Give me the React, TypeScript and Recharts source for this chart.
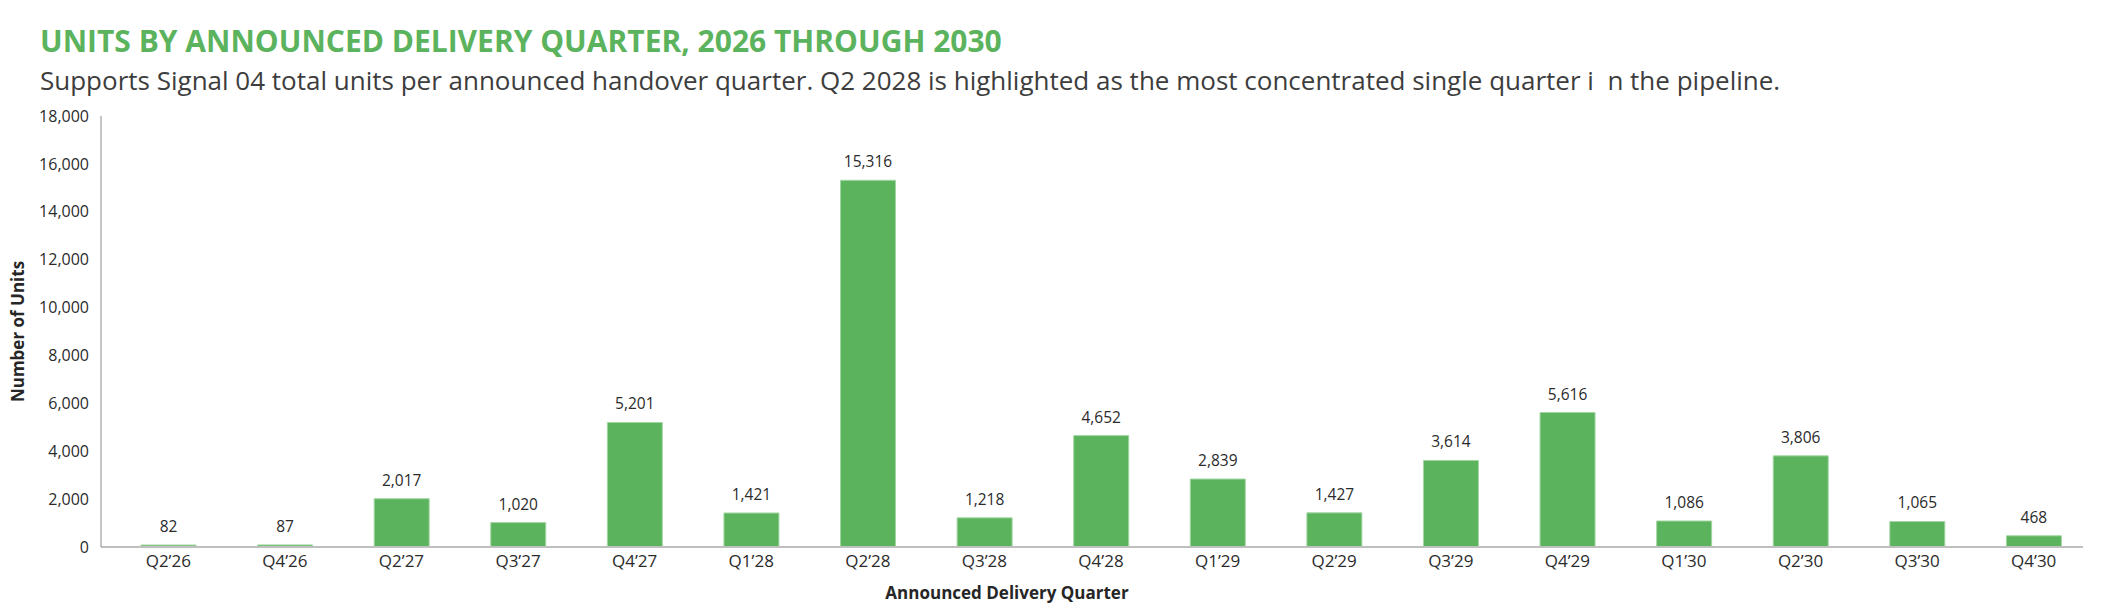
import { BarChart, Bar, XAxis, YAxis, LabelList } from "recharts";

const quarters = [
  "Q2’26", "Q4’26", "Q2’27", "Q3’27", "Q4’27", "Q1’28", "Q2’28", "Q3’28", "Q4’28",
  "Q1’29", "Q2’29", "Q3’29", "Q4’29", "Q1’30", "Q2’30", "Q3’30", "Q4’30",
];
const units = [82, 87, 2017, 1020, 5201, 1421, 15316, 1218, 4652, 2839, 1427, 3614, 5616, 1086, 3806, 1065, 468];
const yTicks = [0, 2000, 4000, 6000, 8000, 10000, 12000, 14000, 16000, 18000];

const data = quarters.map((quarter, i) => ({ quarter, units: units[i] }));

const FONT = '"Open Sans", "Noto Sans", sans-serif';
const GREEN = "#5cb35d";
const fmt = (v: any) => Number(v).toLocaleString("en-US");

export default function App() {
  return (
    <div
      style={{
        position: "absolute",
        left: 0,
        top: 0,
        width: 2102,
        height: 608,
        background: "#fff",
        fontFamily: FONT,
        overflow: "hidden",
      }}
    >
      <div
        style={{
          position: "absolute",
          left: 40,
          top: 25.5,
          fontSize: 30,
          lineHeight: 1,
          fontWeight: 700,
          color: GREEN,
          whiteSpace: "nowrap",
          zIndex: 2,
        }}
      >
        UNITS BY ANNOUNCED DELIVERY QUARTER, 2026 THROUGH 2030
      </div>
      <div
        style={{
          position: "absolute",
          left: 40,
          top: 67,
          fontSize: 26,
          lineHeight: 1,
          color: "#3d3d3d",
          whiteSpace: "pre",
          zIndex: 2,
        }}
      >
        Supports Signal 04 total units per announced handover quarter. Q2 2028 is highlighted as the most concentrated single quarter i  n the pipeline.
      </div>

      <BarChart
        width={2102}
        height={608}
        data={data}
        margin={{ top: 116, right: 19, bottom: 31, left: 8 }}
        barSize={55}
      >
        <XAxis
          dataKey="quarter"
          interval={0}
          padding={{ left: 9, right: -9 }}
          axisLine={{ stroke: "#bfbfbf", strokeWidth: 2 }}
          tickLine={false}
          tick={{ fontSize: 17, fill: "#2b2b2b", fontFamily: FONT }}
          label={{
            value: "Announced Delivery Quarter",
            position: "bottom",
            offset: 10,
            dx: -85,
            fontSize: 17,
            fontWeight: 700,
            fill: "#262626",
            fontFamily: FONT,
          }}
        />
        <YAxis
          width={93}
          domain={[0, 18000]}
          ticks={yTicks}
          tickFormatter={fmt}
          axisLine={{ stroke: "#8c8c8c" }}
          tickLine={false}
          tickMargin={6}
          tick={{ fontSize: 16, fill: "#2b2b2b", fontFamily: FONT }}
          label={{
            value: "Number of Units",
            angle: -90,
            position: "insideLeft",
            offset: 10,
            fontSize: 17,
            fontWeight: 700,
            fill: "#262626",
            fontFamily: FONT,
            style: { textAnchor: "middle" },
          }}
        />
        <Bar dataKey="units" fill={GREEN} stroke="#a3d6a3" strokeWidth={1} isAnimationActive={false}>
          <LabelList
            dataKey="units"
            position="top"
            offset={13}
            formatter={fmt}
            style={{ fontSize: 15.5, fill: "#2b2b2b", fontFamily: FONT }}
          />
        </Bar>
      </BarChart>
    </div>
  );
}
